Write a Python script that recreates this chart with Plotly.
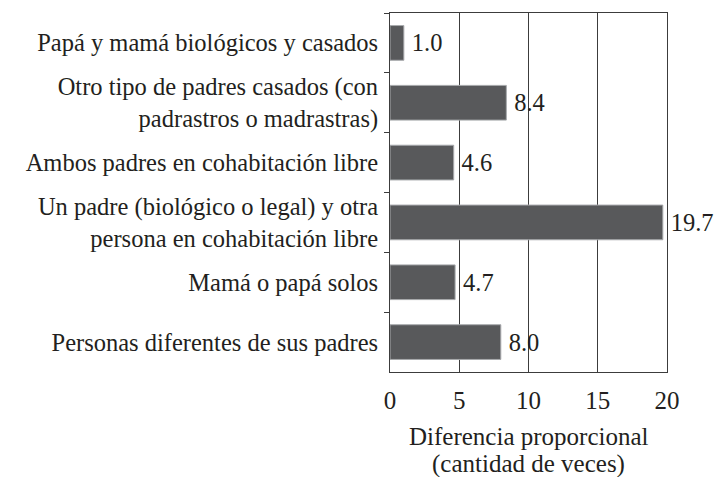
import plotly.graph_objects as go

categories = [
    "Papá y mamá biológicos y casados",
    "Otro tipo de padres casados (con<br>padrastros o madrastras)",
    "Ambos padres en cohabitación libre",
    "Un padre (biológico o legal) y otra<br>persona en cohabitación libre",
    "Mamá o papá solos",
    "Personas diferentes de sus padres",
]
values = [1.0, 8.4, 4.6, 19.7, 4.7, 8.0]
value_labels = ["1.0", "8.4", "4.6", "19.7", "4.7", "8.0"]
x_ticks = [0, 5, 10, 15, 20]
title_lines = ["Diferencia proporcional", "(cantidad de veces)"]

FONT = "Liberation Serif"
TXT = "#231f20"
FS = 24.5

fig = go.Figure(go.Bar(
    x=values, y=categories, orientation="h",
    marker=dict(color="#58595b", line=dict(color="#a7a9ac", width=1)),
    text=["\u2009" + t for t in value_labels], textposition="outside", cliponaxis=False,
    textfont=dict(family=FONT, size=FS, color=TXT),
))

fig.update_layout(
    width=720, height=477,
    margin=dict(l=390, r=53, t=13, b=105),
    paper_bgcolor="white", plot_bgcolor="white",
    showlegend=False, bargap=0.42,
    font=dict(family=FONT, size=FS, color=TXT),
    xaxis=dict(range=[0, 20], tickvals=x_ticks, showgrid=True, gridcolor="#3c3c3c",
               gridwidth=1, showline=True, linecolor="#3c3c3c", linewidth=1, mirror=True,
               zeroline=False, ticks="", ticklabelstandoff=6, automargin=False,
               tickfont=dict(family=FONT, size=25, color=TXT)),
    yaxis=dict(autorange="reversed", showline=True, linecolor="#3c3c3c", linewidth=1,
               mirror=True, ticks="outside", tickson="boundaries", ticklen=5,
               tickcolor="#3c3c3c", showgrid=False, ticklabelstandoff=6, automargin=False),
    annotations=[
        dict(text=title_lines[0], xref="paper", yref="paper", x=0.5, y=-0.181,
             xanchor="center", yanchor="middle", showarrow=False,
             font=dict(family=FONT, size=25, color=TXT)),
        dict(text=title_lines[1], xref="paper", yref="paper", x=0.5, y=-0.255,
             xanchor="center", yanchor="middle", showarrow=False,
             font=dict(family=FONT, size=25, color=TXT)),
    ],
)

fig.write_html("out.html", config={"displayModeBar": False},
               post_script="document.body.style.margin='0';document.body.style.padding='0';")
